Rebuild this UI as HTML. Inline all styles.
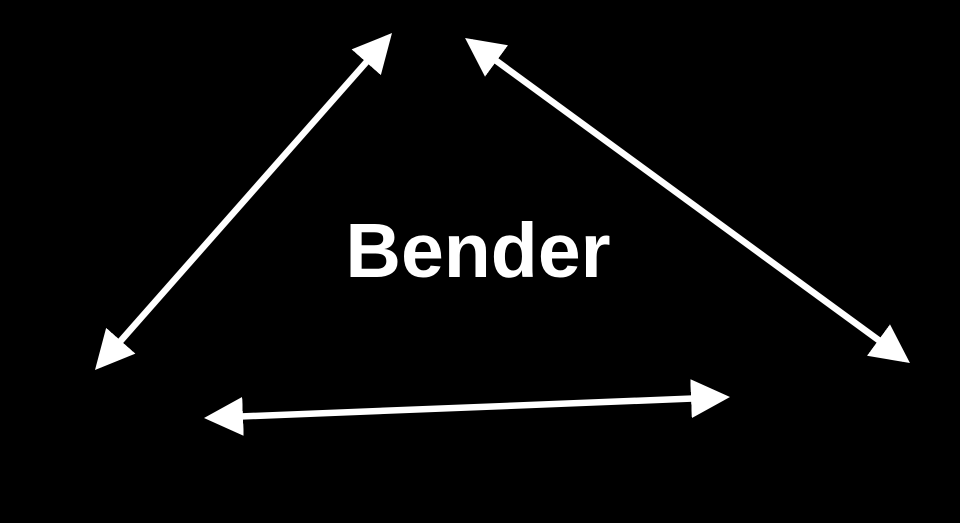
<!DOCTYPE html>
<html><head><style>
html,body{margin:0;padding:0;background:#000;width:960px;height:523px;overflow:hidden}
svg{display:block}
</style></head><body>
<svg width="960" height="523" viewBox="0 0 960 523">
<defs>
<marker id="h" markerWidth="6" markerHeight="6" refX="5" refY="3" orient="auto-start-reverse" markerUnits="strokeWidth">
<path d="M0,0 L6,3 L0,6 Z" fill="#fff"/>
</marker>
</defs>
<g stroke="#fff" stroke-width="6.5" fill="none">
<line x1="99.3" y1="365.1" x2="387.7" y2="37.9" marker-start="url(#h)" marker-end="url(#h)"/>
<line x1="470.3" y1="41.8" x2="904.7" y2="359.2" marker-start="url(#h)" marker-end="url(#h)"/>
<line x1="210.5" y1="417.7" x2="723.5" y2="397.3" marker-start="url(#h)" marker-end="url(#h)"/>
</g>
<text x="478" y="277" text-anchor="middle" fill="#fff" font-family="Liberation Sans, sans-serif" font-weight="bold" font-size="77">Bender</text>
</svg>
</body></html>
